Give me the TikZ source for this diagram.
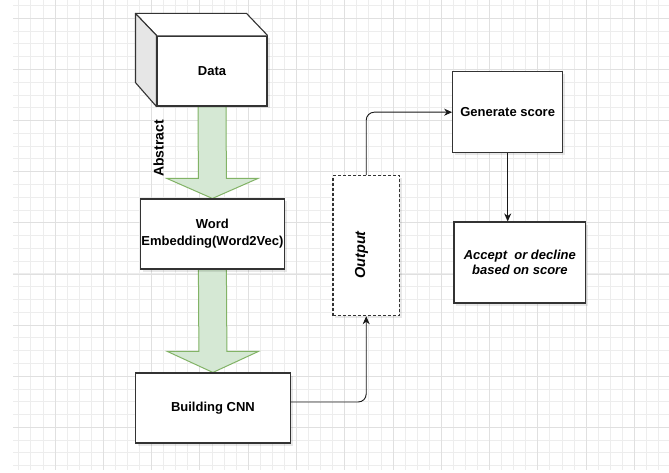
\documentclass[tikz,border=0pt]{standalone}
\usepackage{fontspec}
\setmainfont{Liberation Sans}
\usetikzlibrary{arrows.meta,shadows}
\definecolor{gridminor}{HTML}{EDEDED}
\definecolor{gridmajor}{HTML}{E0E0E0}
\definecolor{boxline}{HTML}{333333}
\definecolor{gfill}{HTML}{D5E8D4}
\definecolor{gline}{HTML}{82B366}
\definecolor{cubeside}{HTML}{E6E6E6}
\pgfdeclarelayer{gridlayer}
\pgfdeclarelayer{arrowlayer}
\pgfsetlayers{gridlayer,arrowlayer,main}
\tikzset{
  box/.style={draw=boxline, line width=1.1pt, fill=white, rectangle, inner sep=0pt,
    general shadow={fill=black, opacity=0.09, shadow xshift=2.5pt, shadow yshift=-2.5pt},
    font=\fontsize{13}{17.3}\selectfont\bfseries, align=center},
  dashedbox/.style={box, dash pattern=on 3pt off 2pt},
  conn/.style={draw=black!90, line width=0.9pt, -{Stealth[length=8pt,width=7pt,inset=2.5pt]}},
  bigarrow/.style={fill=gfill, draw=gline, line width=1pt, line join=miter},
  lbl/.style={inner sep=0pt},
  cubeface/.style={draw=boxline, line width=1.1pt, line join=round},
  gminor/.style={draw=gridminor, line width=0.8pt},
  gmajor/.style={draw=gridmajor, line width=0.8pt}
}
\begin{document}
\begin{tikzpicture}[x=1pt,y=-1pt]
\useasboundingbox (0,0) rectangle (669,473);
\begin{pgfonlayer}{gridlayer}
  \fill[white] (0,0) rectangle (669,473);
  \foreach \i in {0,...,54}{
    \pgfmathsetmacro\xx{18.8+12.07*\i}
    \draw[gminor] (\xx,0) -- (\xx,470);
  }
  \foreach \j in {0,...,36}{
    \pgfmathsetmacro\yy{5.5+12.78*\j}
    \draw[gminor] (13,\yy) -- (669,\yy);
  }
  \foreach \i in {0,...,13}{
    \pgfmathsetmacro\xx{55+48.28*\i}
    \draw[gmajor] (\xx,0) -- (\xx,470);
  }
  \foreach \j in {0,...,8}{
    \pgfmathsetmacro\yy{18.3+51.12*\j}
    \draw[gmajor] (13,\yy) -- (669,\yy);
  }
\end{pgfonlayer}

% nodes
\node[box, minimum width=110pt, minimum height=70pt] (data) at (212,71) {Data};
\fill[white] (data.north west) -- ([xshift=-21pt,yshift=22pt]data.north west) -- ([xshift=-21pt,yshift=22pt]data.north east) -- (data.north east) -- cycle;
\draw[cubeface] (data.north west) -- ([xshift=-21pt,yshift=22pt]data.north west) -- ([xshift=-21pt,yshift=22pt]data.north east) -- (data.north east);
\draw[cubeface, fill=cubeside] (data.north west) -- ([xshift=-21pt,yshift=22pt]data.north west) -- ([xshift=-21pt,yshift=24pt]data.south west) -- (data.south west) -- cycle;

\node[box, minimum width=143.3pt, minimum height=70pt] (word) at (212.4,234) {Word\\Embedding(Word2Vec)};
\node[box, minimum width=154.3pt, minimum height=70pt] (cnn) at (212.9,408) {Building CNN};
\node[dashedbox, minimum width=66.5pt, minimum height=140pt] (output) at (366.2,245.7) {};
\node[lbl, rotate=90, font=\fontsize{14.5}{16}\selectfont\bfseries\itshape] (outlbl) at ([xshift=-4.7pt,yshift=-9.3pt]output.center) {Output};
\node[box, minimum width=110pt, minimum height=81pt] (gen) at (507.7,112.2) {Generate score};
\node[box, minimum width=131.7pt, minimum height=81pt, font=\fontsize{13}{14.7}\selectfont\bfseries\itshape] (accept) at (519.8,262.5) {Accept\ \ or decline\\based on score};
\node[lbl, rotate=90, font=\fontsize{14}{15}\selectfont\bfseries] (abstract) at (158.5,148.3) {Abstract};

% big green arrows
\begin{pgfonlayer}{arrowlayer}
\draw[bigarrow] ([xshift=-14pt]data.south) -- ([xshift=-14pt,yshift=20pt]word.north)
  -- ([xshift=-45.5pt,yshift=20pt]word.north) -- (word.north)
  -- ([xshift=45.5pt,yshift=20pt]word.north) -- ([xshift=14pt,yshift=20pt]word.north)
  -- ([xshift=14pt]data.south) -- cycle;
\draw[bigarrow] ([xshift=-14pt]word.south) -- ([xshift=-14pt,yshift=21pt]cnn.north)
  -- ([xshift=-45.5pt,yshift=21pt]cnn.north) -- (cnn.north)
  -- ([xshift=45.5pt,yshift=21pt]cnn.north) -- ([xshift=14pt,yshift=21pt]cnn.north)
  -- ([xshift=14pt]word.south) -- cycle;
\end{pgfonlayer}

% connectors
\draw[conn, rounded corners=8pt] ([yshift=6pt]cnn.east) -| (output.south);
\draw[conn, rounded corners=8pt] (output.north) |- (gen.west);
\draw[conn] (gen.south) -- (gen.south |- accept.north);
\end{tikzpicture}
\end{document}
